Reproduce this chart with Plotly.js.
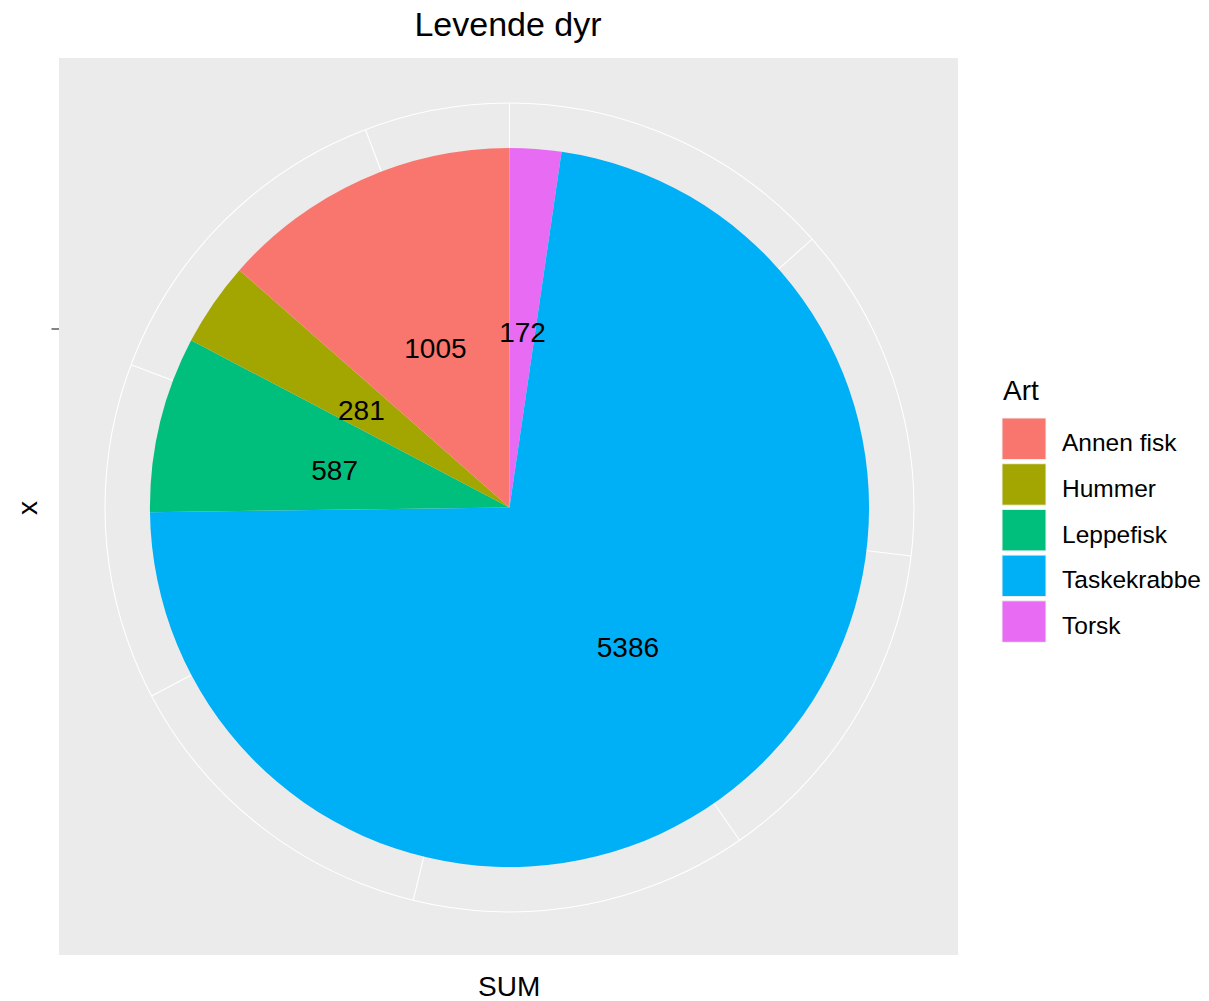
<!DOCTYPE html>
<html>
<head>
<meta charset="utf-8">
<script src="https://cdn.plot.ly/plotly-3.0.1.min.js"></script>
<style>html,body{margin:0;padding:0;background:#fff;}#chart{width:1209px;height:1001px;}</style>
</head>
<body>
<div id="chart"></div>
<script>
// ---- data ----
const categories = ['Annen fisk', 'Hummer', 'Leppefisk', 'Taskekrabbe', 'Torsk'];
const values = [1005, 281, 587, 5386, 172];
const colors = ['#F8766D', '#A3A500', '#00BF7D', '#00B0F6', '#E76BF3'];
const thetaBreaks = [0, 1000, 2000, 3000, 4000, 5000, 6000, 7000];
const chartTitle = 'Levende dyr';
const legendTitle = 'Art';
const xTitle = 'SUM';
const yTitle = 'x';

// ---- geometry (pixels) ----
const W = 1209, H = 1001;
const cx = 509.5, cy = 507.5, Rout = 404.5;
const FONT = 'Liberation Sans, Arial, sans-serif';
const px = x => x / W;
const py = y => 1 - y / H;

const total = values.reduce((a, b) => a + b, 0);
const toDeg = v => v / total * 360;

// ggplot stacks so that the first level ends at the top: clockwise order is reversed
const order = categories.map((_, i) => i).reverse();
const thetaMid = [], widths = [], barColors = [], labels = [];
let cum = 0;
order.forEach(i => {
  thetaMid.push(toDeg(cum + values[i] / 2));
  widths.push(toDeg(values[i]));
  barColors.push(colors[i]);
  labels.push('<span style="font-size:28px">' + values[i] + '</span>');
  cum += values[i];
});

const traces = [
  {
    type: 'barpolar',
    r: order.map(() => 1),
    base: order.map(() => 0),
    theta: thetaMid,
    width: widths,
    marker: { color: barColors, line: { width: 0 } },
    showlegend: false,
    hoverinfo: 'skip'
  },
  {
    type: 'scatterpolar',
    mode: 'text',
    r: order.map(() => 0.5),
    theta: thetaMid,
    text: labels,
    textposition: 'middle center',
    // larger nominal size moves the baseline down like ggplot's vjust=0.5; span sets the drawn size
    textfont: { family: FONT, size: 56, color: '#000000' },
    showlegend: false,
    hoverinfo: 'skip'
  }
];

const shapes = [
  { type: 'rect', xref: 'paper', yref: 'paper', x0: px(59), x1: px(958), y0: py(955), y1: py(58),
    fillcolor: '#EBEBEB', line: { width: 0 }, layer: 'below' },
  { type: 'line', xref: 'paper', yref: 'paper', x0: px(51.5), x1: px(59), y0: py(329), y1: py(329),
    line: { color: '#333333', width: 1.2 } }
];

const annotations = [
  { text: yTitle, xref: 'paper', yref: 'paper', x: px(27), y: py(508), xanchor: 'center', yanchor: 'middle',
    textangle: -90, showarrow: false, font: { family: FONT, size: 28, color: '#000' } },
  { text: xTitle, xref: 'paper', yref: 'paper', x: px(509), y: py(986), xanchor: 'center', yanchor: 'middle',
    showarrow: false, font: { family: FONT, size: 28, color: '#000' } },
  { text: legendTitle, xref: 'paper', yref: 'paper', x: px(1001), y: py(390), xanchor: 'left', yanchor: 'middle',
    showarrow: false, font: { family: FONT, size: 28, color: '#000' } }
];

const keyTop0 = 418, keyPitch = 45.7, keyH = 41.5, keyX0 = 1002, keyX1 = 1046;
categories.forEach((c, i) => {
  const t = keyTop0 + i * keyPitch;
  shapes.push({ type: 'rect', xref: 'paper', yref: 'paper', x0: px(keyX0), x1: px(keyX1), y0: py(t + keyH), y1: py(t),
    fillcolor: colors[i], line: { color: '#F2F2F2', width: 1 } });
  annotations.push({ text: c, xref: 'paper', yref: 'paper', x: px(1060), y: py(t + keyH / 2 + 4), xanchor: 'left', yanchor: 'middle',
    showarrow: false, font: { family: FONT, size: 24.5, color: '#000' } });
});

const layout = {
  width: W, height: H,
  margin: { l: 0, r: 0, t: 0, b: 0 },
  paper_bgcolor: '#FFFFFF',
  title: { text: chartTitle, x: px(508), xanchor: 'center', xref: 'paper', y: py(24), yanchor: 'middle', yref: 'paper',
    font: { family: FONT, size: 34, color: '#000' } },
  showlegend: false,
  polar: {
    domain: { x: [px(cx - Rout), px(cx + Rout)], y: [py(cy + Rout), py(cy - Rout)] },
    bgcolor: '#EBEBEB',
    radialaxis: { range: [0, 1.125], visible: false },
    angularaxis: {
      rotation: 90, direction: 'clockwise',
      tickmode: 'array', tickvals: thetaBreaks.map(toDeg), ticktext: thetaBreaks.map(() => ''),
      showticklabels: false, ticks: '',
      showgrid: true, gridcolor: '#FFFFFF', gridwidth: 1.1,
      showline: true, linecolor: '#FFFFFF', linewidth: 1.1,
      layer: 'below traces'
    }
  },
  shapes: shapes,
  annotations: annotations
};

Plotly.newPlot('chart', traces, layout, { staticPlot: true, displayModeBar: false });
</script>
</body>
</html>
